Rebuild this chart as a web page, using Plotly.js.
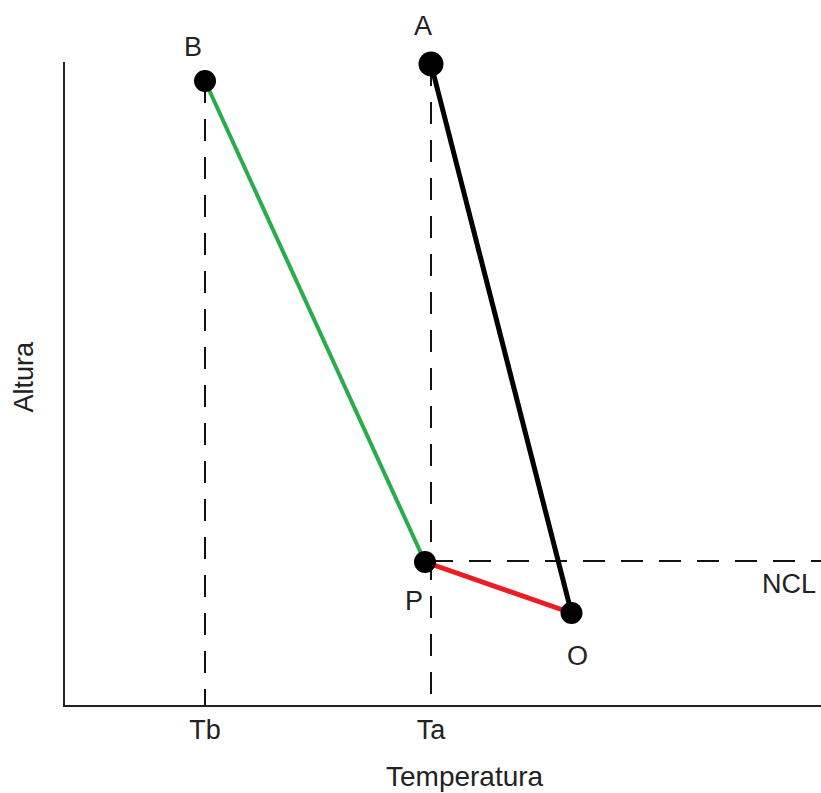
<!DOCTYPE html>
<html>
<head>
<meta charset="utf-8">
<script src="https://cdn.plot.ly/plotly-3.0.1.min.js"></script>
<style>html,body{margin:0;padding:0;background:#fff;}#chart{width:821px;height:793px;}</style>
</head>
<body>
<div id="chart"></div>
<script>
// Temperature (arbitrary units) and height (arbitrary units)
const pointNames = ["B", "A", "P", "O"];
const pointTemp = [14.0, 36.6, 36.0, 50.65];
const pointHeight = [62.4, 64.1, 14.3, 9.2];
const tickLabels = ["Tb", "Ta"];
const tickTemps = [14.0, 36.6];
const nclHeight = 14.4;
const nclLabel = "NCL";
const xTitle = "Temperatura";
const yTitle = "Altura";

const xMax = 75.6, yMax = 64.3;
const idx = n => pointNames.indexOf(n);
const pt = n => [pointTemp[idx(n)], pointHeight[idx(n)]];
const FONT = "Liberation Sans, Arial, sans-serif";
const FS = 27;
const PW = 756; // plot width in px, used to place paper-referenced labels

const dash = {color: "#111", width: 2, dash: "22px,16px"};
const traces = [
  {x: [tickTemps[0], tickTemps[0]], y: [pt("B")[1], 0], mode: "lines", line: dash, hoverinfo: "skip"},
  {x: [tickTemps[1], tickTemps[1]], y: [pt("A")[1], 0], mode: "lines", line: dash, hoverinfo: "skip"},
  {x: [tickTemps[1], xMax], y: [nclHeight, nclHeight], mode: "lines", line: dash, hoverinfo: "skip"},
  {x: [pt("B")[0], pt("P")[0]], y: [pt("B")[1], pt("P")[1]], mode: "lines", line: {color: "#27AE4A", width: 4}},
  {x: [pt("P")[0], pt("O")[0]], y: [pt("P")[1], pt("O")[1]], mode: "lines", line: {color: "#EC1C24", width: 5}},
  {x: [pt("O")[0], pt("A")[0]], y: [pt("O")[1], pt("A")[1]], mode: "lines", line: {color: "#000", width: 5}},
  {x: pointTemp, y: pointHeight, mode: "markers", marker: {color: "#000", opacity: 1, size: [22, 25, 22, 22], line: {width: 0}}, cliponaxis: false}
];

const shifts = {B: [-12, 34], A: [-8, 38], P: [-11, -39], O: [6, -43]};
const annotations = pointNames.map(n => ({
  x: pt(n)[0], y: pt(n)[1], xref: "x", yref: "y", text: n, showarrow: false, xanchor: "center", yanchor: "middle",
  xshift: shifts[n][0], yshift: shifts[n][1], font: {family: FONT, size: FS, color: "#222"}
}));
annotations.push({x: (789 - 65) / PW, xref: "paper", xanchor: "center", y: nclHeight, yref: "y", yanchor: "middle", yshift: -23, text: nclLabel,
  showarrow: false, font: {family: FONT, size: FS, color: "#222"}});
annotations.push({x: (465 - 65) / PW, xref: "paper", xanchor: "center", y: 0, yref: "paper", yanchor: "middle", yshift: -71,
  text: xTitle, showarrow: false, font: {family: FONT, size: 28, color: "#222"}});
annotations.push({x: 0, xref: "paper", xanchor: "center", xshift: -42, y: 0.5 + (383 - 376) / 643, yref: "paper", yanchor: "middle", textangle: -90,
  text: yTitle, showarrow: false, font: {family: FONT, size: FS, color: "#222"}});

const layout = {
  width: 821, height: 793,
  margin: {l: 65, r: 0, t: 62, b: 88},
  paper_bgcolor: "#fff", plot_bgcolor: "#fff",
  showlegend: false,
  xaxis: {range: [0, xMax], showgrid: false, zeroline: false, showline: true, linecolor: "#222", linewidth: 2,
    tickvals: tickTemps, ticktext: tickLabels, ticks: "", ticklabelstandoff: 0,
    tickfont: {family: FONT, size: FS, color: "#222"}, fixedrange: true},
  yaxis: {range: [0, yMax], showgrid: false, zeroline: false, showline: true, linecolor: "#222", linewidth: 2,
    showticklabels: false, ticks: "", fixedrange: true},
  annotations: annotations
};
Plotly.newPlot("chart", traces, layout, {displayModeBar: false, staticPlot: true});
</script>
</body>
</html>
